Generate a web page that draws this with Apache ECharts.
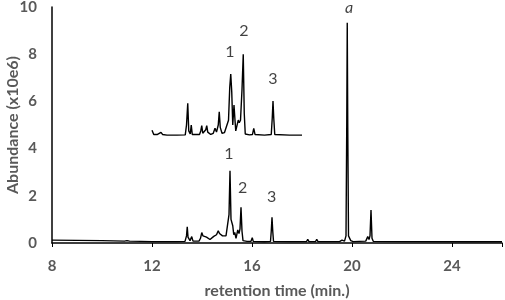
<!DOCTYPE html>
<html>
<head>
<meta charset="utf-8">
<script src="https://cdn.jsdelivr.net/npm/echarts@6/dist/echarts.min.js"></script>
<style>html,body{margin:0;padding:0;background:#fff}#c{width:505px;height:300px}</style>
</head>
<body>
<div id="c"></div>
<script>
// retention time (min), abundance (x10e6) - main chromatogram
var mainTrace = [[8,0.12],[9,0.11],[10,0.1],[10.9,0.08],[11,0.1],[11.1,0.08],[12,0.06],[12.3,0.06],[12.35,0.1],[12.4,0.06],[13,0.06],[13.32,0.07],[13.38,0.3],[13.41,0.69],[13.44,0.25],[13.52,0.1],[13.59,0.27],[13.64,0.08],[13.88,0.08],[13.94,0.2],[13.99,0.44],[14.04,0.3],[14.12,0.33],[14.18,0.25],[14.25,0.3],[14.32,0.15],[14.4,0.12],[14.47,0.28],[14.52,0.31],[14.58,0.35],[14.65,0.52],[14.7,0.4],[14.75,0.47],[14.82,0.3],[14.9,0.25],[14.96,0.3],[15.03,0.35],[15.08,1.2],[15.12,3.06],[15.16,1.0],[15.23,0.73],[15.27,0.35],[15.31,0.45],[15.36,0.2],[15.43,0.55],[15.48,0.4],[15.52,0.6],[15.56,1.51],[15.6,0.5],[15.64,0.1],[15.8,0.07],[15.96,0.07],[16.01,0.22],[16.05,0.07],[16.5,0.05],[16.74,0.07],[16.77,0.5],[16.8,1.09],[16.83,0.5],[16.86,0.07],[17.5,0.06],[18.18,0.06],[18.23,0.15],[18.28,0.06],[18.54,0.06],[18.59,0.15],[18.64,0.06],[19.5,0.06],[19.6,0.12],[19.7,0.08],[19.76,0.3],[19.79,5.0],[19.81,9.33],[19.83,5.0],[19.86,0.3],[19.9,0.25],[19.95,0.1],[20.0,0.15],[20.05,0.06],[20.55,0.08],[20.63,0.27],[20.68,0.15],[20.72,0.3],[20.76,1.4],[20.8,0.2],[20.85,0.07],[22.1,0.06],[22.16,0.14],[22.22,0.06],[24.6,0.05],[24.64,0.08],[24.68,0.05],[26,0.05]];
// inset chromatogram (offset trace)
var insetTrace = [[12.0,4.78],[12.03,4.7],[12.07,4.6],[12.15,4.58],[12.22,4.6],[12.3,4.68],[12.36,4.69],[12.42,4.6],[12.6,4.57],[13.0,4.57],[13.33,4.58],[13.38,5.0],[13.43,5.92],[13.47,4.75],[13.53,4.62],[13.57,5.0],[13.61,4.6],[13.9,4.6],[13.95,4.75],[13.99,4.97],[14.03,4.65],[14.1,4.62],[14.15,4.8],[14.19,4.97],[14.23,4.7],[14.35,4.6],[14.45,4.65],[14.52,4.86],[14.58,4.7],[14.65,5.0],[14.69,5.56],[14.73,4.9],[14.8,4.65],[14.9,4.68],[14.98,4.75],[15.06,5.2],[15.11,6.6],[15.15,7.16],[15.19,6.4],[15.23,5.0],[15.28,5.85],[15.32,5.2],[15.35,4.75],[15.4,4.8],[15.45,5.21],[15.49,5.1],[15.54,5.2],[15.6,6.5],[15.65,8.0],[15.69,5.5],[15.73,4.62],[15.9,4.58],[16.02,4.6],[16.07,4.86],[16.12,4.6],[16.5,4.57],[16.77,4.6],[16.81,5.3],[16.84,6.02],[16.87,5.3],[16.91,4.6],[17.5,4.57],[18.0,4.57]];
// peak annotations
var peakLabels = [
  {name:'1', value:[15.08,3.77]},
  {name:'2', value:[15.63,2.34]},
  {name:'3', value:[16.79,1.95]},
  {name:'1', value:[15.12,8.1]},
  {name:'2', value:[15.68,8.98]},
  {name:'3', value:[16.84,6.95]}
];
var italicLabels = [{name:'a', value:[19.88,9.95]}];
var xTicks = [8,12,16,20,24];
var yTicks = [0,2,4,6,8,10];

var font = 'Lato, "Open Sans", sans-serif';
var chart = echarts.init(document.getElementById('c'));
chart.setOption({
  animation:false,
  grid:{left:52,right:3,top:7,bottom:57,containLabel:false,outerBoundsMode:'none'},
  xAxis:{type:'value',min:8,max:26,interval:4,
    name:'retention time (min.)',nameLocation:'middle',nameGap:40,nameMoveOverlap:false,
    nameTextStyle:{fontFamily:font,fontWeight:'bold',fontSize:16,color:'#595959'},
    axisLine:{lineStyle:{color:'#000',width:1.5}},
    axisTick:{show:true,length:4,lineStyle:{color:'#000'}},
    splitLine:{show:false},
    axisLabel:{fontFamily:font,fontWeight:'bold',fontSize:15,color:'#595959',margin:16,
      formatter:function(v){return xTicks.indexOf(v)>=0?String(v):'';}}
  },
  yAxis:{type:'value',min:0,max:10,interval:2,
    name:'Abundance (x10e6)',nameLocation:'middle',nameGap:31,nameMoveOverlap:false,
    nameTextStyle:{fontFamily:font,fontWeight:'bold',fontSize:16,color:'#595959'},
    axisLine:{show:true,lineStyle:{color:'#000',width:1.5}},
    axisTick:{show:false},
    splitLine:{show:false},
    axisLabel:{fontFamily:font,fontWeight:'bold',fontSize:15,color:'#595959',margin:15,
      formatter:function(v){return yTicks.indexOf(v)>=0?String(v):'';}}
  },
  series:[
    {type:'line',data:mainTrace,showSymbol:false,lineStyle:{color:'#000',width:1.4},z:3},
    {type:'line',data:insetTrace,showSymbol:false,lineStyle:{color:'#000',width:1.4},z:3},
    {type:'scatter',data:peakLabels,symbolSize:0,
      label:{show:true,position:'inside',formatter:'{b}',fontFamily:font,fontSize:16,color:'#111'},z:4},
    {type:'scatter',data:italicLabels,symbolSize:0,
      label:{show:true,position:'inside',formatter:'{b}',fontFamily:font,fontSize:16,fontStyle:'italic',color:'#111'},z:4}
  ]
});
</script>
</body>
</html>
